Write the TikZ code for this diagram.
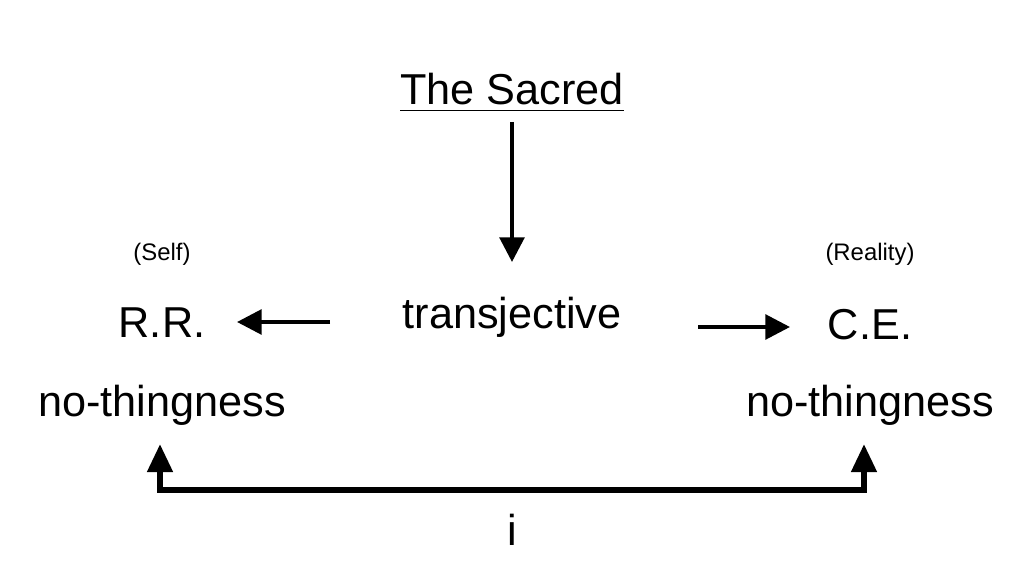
\documentclass[tikz,border=0pt]{standalone}
\usepackage{fontspec}
\setmainfont{Liberation Sans}
\usetikzlibrary{arrows.meta}
\begin{document}
\begin{tikzpicture}[x=0.01cm,y=-0.01cm,>={Triangle[length=7pt,width=7pt]},
  big/.style={font=\fontsize{12.3}{14}\selectfont,inner sep=1pt},
  small/.style={font=\fontsize{6.8}{8}\selectfont,inner sep=1pt},
  arr/.style={line width=1.1pt,->}]
  \useasboundingbox (0,0) rectangle (1024,576);
  \node[big] (sacred) at (512,93) {\underline{The Sacred}};
  \node[big] (trans) at (512,317) {transjective};
  \node[big] (rr) at (162,323) {R.R.};
  \node[big] (ce) at (870,325) {C.E.};
  \node[small] (self) at (162,254) {(Self)};
  \node[small] (real) at (870,254) {(Reality)};
  \node[big] (ntl) at (162,405) {no-thingness};
  \node[big] (ntr) at (870,405) {no-thingness};
  \node[big] (i) at (512,530) {i};
  \coordinate (s1) at (512,122);
  \coordinate (s2) at (512,262);
  \coordinate (l1) at (330,322);
  \coordinate (l2) at (237,322);
  \coordinate (r1) at (698,327);
  \coordinate (r2) at (790,327);
  \draw[arr] (s1) -- (s2);
  \draw[arr] (l1) -- (l2);
  \draw[arr] (r1) -- (r2);
  % bottom loop
  \draw[line width=1.7pt,<->,>={Triangle[length=8pt,width=7pt]}] (160,444) -- (160,490) -- (864,490) -- (864,444);
\end{tikzpicture}
\end{document}
